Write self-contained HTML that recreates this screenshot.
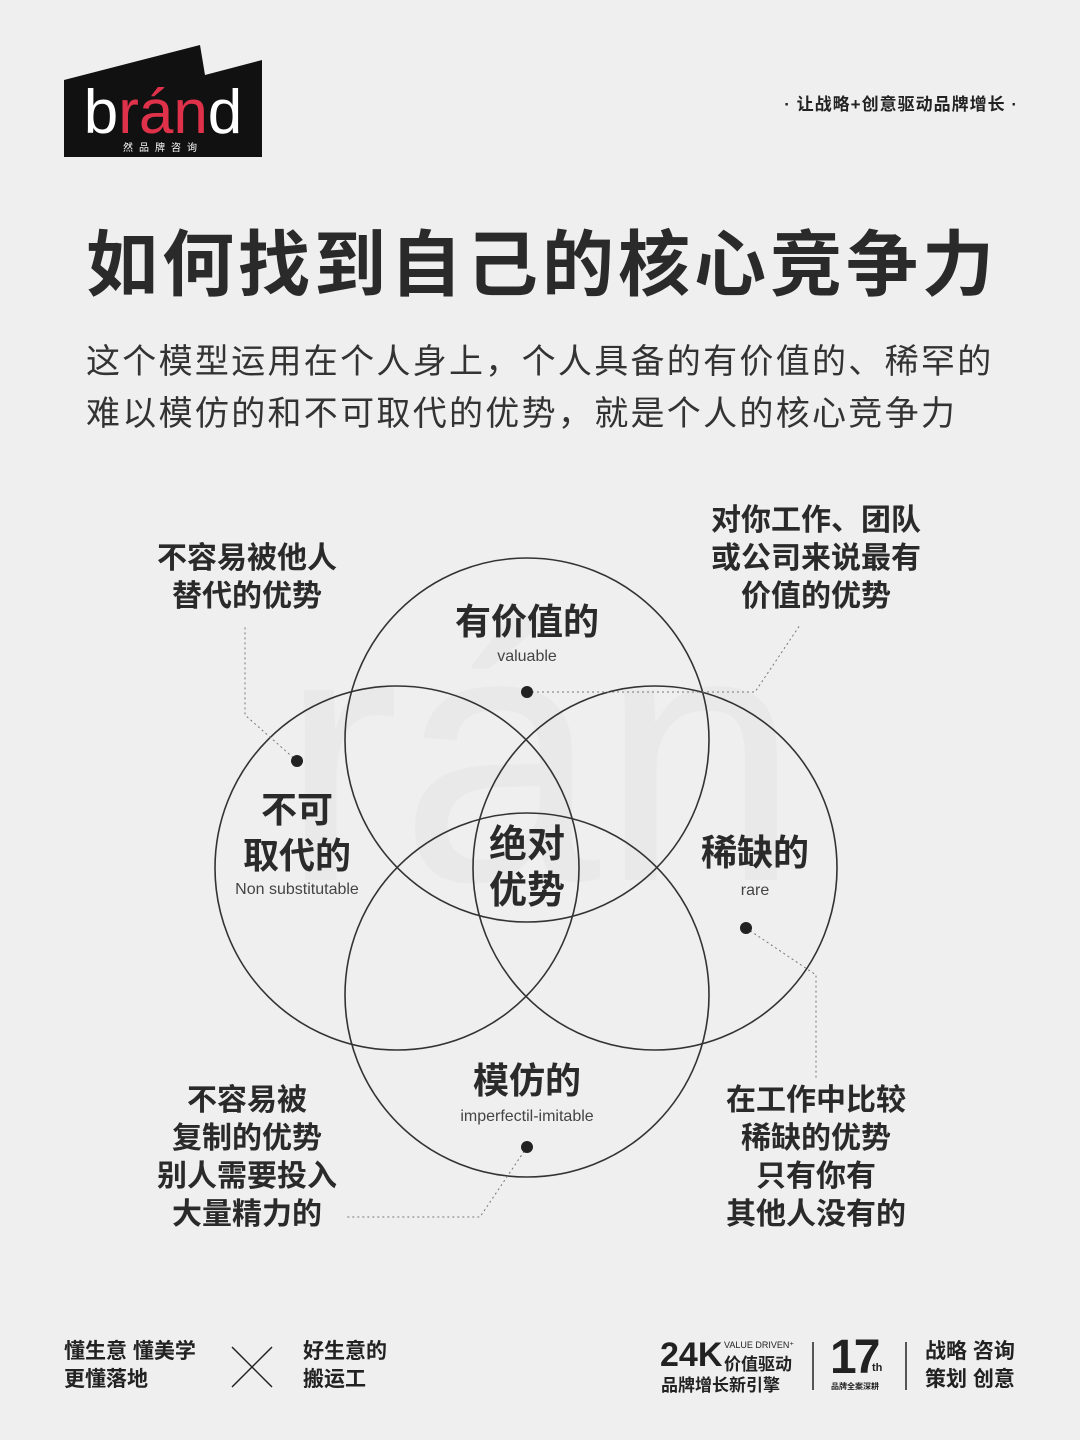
<!DOCTYPE html>
<html><head><meta charset="utf-8"><style>
body{margin:0;width:1080px;height:1440px;background:#efefef;position:relative;overflow:hidden;font-family:"Liberation Sans","Noto Sans CJK SC",sans-serif;color:#222}
.a{position:absolute;white-space:nowrap}
.c{text-align:center;transform:translateX(-50%)}
.lbl{font-weight:bold;font-size:33px;line-height:38px;color:#2a2a2a}
.en{font-size:16px;color:#444}
</style></head><body>
<svg class="a" style="left:0;top:0" width="1080" height="1440">
<text x="540" y="880" text-anchor="middle" font-family="Liberation Sans" font-size="360" fill="#e9e9e9">rán</text>
<polygon points="64,80 200,45 205,75 262,60 262,157 64,157" fill="#111"/>
<text x="163" y="133" text-anchor="middle" font-family="Liberation Sans" font-size="62" fill="#fff">b<tspan fill="#e0314b">rán</tspan>d</text>
<text x="163" y="151" text-anchor="middle" font-family="Noto Sans CJK SC" font-size="10" fill="#fff" letter-spacing="6">然品牌咨询</text>
<g fill="none" stroke="#333" stroke-width="1.6">
<circle cx="527" cy="740" r="182"/>
<circle cx="397" cy="868" r="182"/>
<circle cx="655" cy="868" r="182"/>
<circle cx="527" cy="995" r="182"/>
</g>
<g fill="none" stroke="#777" stroke-width="1" stroke-dasharray="2,3">
<polyline points="527,692 755,692 800,625"/>
<polyline points="297,761 245,715 245,625"/>
<polyline points="746,928 816,975 816,1078"/>
<polyline points="527,1147 480,1217 345,1217"/>
<line x1="232" y1="1347" x2="272" y2="1387" stroke="#222" stroke-dasharray="none" stroke-width="1.5"/>
<line x1="272" y1="1347" x2="232" y2="1387" stroke="#222" stroke-dasharray="none" stroke-width="1.5"/>
<line x1="813" y1="1342" x2="813" y2="1390" stroke="#222" stroke-dasharray="none" stroke-width="1.5"/>
<line x1="906" y1="1342" x2="906" y2="1390" stroke="#222" stroke-dasharray="none" stroke-width="1.5"/>
</g>
<g fill="#222">
<circle cx="527" cy="692" r="6"/><circle cx="297" cy="761" r="6"/><circle cx="746" cy="928" r="6"/><circle cx="527" cy="1147" r="6"/>
</g>
</svg>
<div class="a" style="right:62px;top:90px;font-size:17px;font-weight:bold;letter-spacing:1px">· 让战略+创意驱动品牌增长 ·</div>
<div class="a" style="left:86px;top:206px;font-size:72px;font-weight:bold;letter-spacing:4px;color:#2a2a2a">如何找到自己的核心竞争力</div>
<div class="a" style="left:86px;top:336px;font-size:34px;line-height:52px;color:#333;letter-spacing:2.3px">这个模型运用在个人身上，个人具备的有价值的、稀罕的<br>难以模仿的和不可取代的优势，就是个人的核心竞争力</div>

<div class="a c lbl" style="left:527px;top:603px;font-size:36px">有价值的</div>
<div class="a c en" style="left:527px;top:648px">valuable</div>
<div class="a c lbl" style="left:297px;top:787px;font-size:36px;line-height:46px">不可<br>取代的</div>
<div class="a c en" style="left:297px;top:881px">Non substitutable</div>
<div class="a c lbl" style="left:755px;top:834px;font-size:36px">稀缺的</div>
<div class="a c en" style="left:755px;top:882px">rare</div>
<div class="a c lbl" style="left:527px;top:1062px;font-size:36px">模仿的</div>
<div class="a c en" style="left:527px;top:1108px">imperfectil-imitable</div>
<div class="a c lbl" style="left:527px;top:822px;font-size:38px;line-height:46px">绝对<br>优势</div>

<div class="a c lbl" style="left:247px;top:540px;font-size:30px">不容易被他人<br>替代的优势</div>
<div class="a c lbl" style="left:816px;top:502px;font-size:30px">对你工作、团队<br>或公司来说最有<br>价值的优势</div>
<div class="a c lbl" style="left:247px;top:1082px;font-size:30px">不容易被<br>复制的优势<br>别人需要投入<br>大量精力的</div>
<div class="a c lbl" style="left:816px;top:1082px;font-size:30px">在工作中比较<br>稀缺的优势<br>只有你有<br>其他人没有的</div>

<div class="a" style="left:64px;top:1338px;font-size:21px;font-weight:bold;line-height:28px">懂生意 懂美学<br>更懂落地</div>
<div class="a" style="left:303px;top:1338px;font-size:21px;font-weight:bold;line-height:28px">好生意的<br>搬运工</div>
<div class="a" style="left:660px;top:1336px;font-size:34px;font-weight:bold">24K</div>
<div class="a" style="left:724px;top:1340px;font-size:9px">VALUE DRIVEN⁺</div>
<div class="a" style="left:724px;top:1350px;font-size:17px;font-weight:bold">价值驱动</div>
<div class="a" style="left:661px;top:1371px;font-size:17px;font-weight:bold">品牌增长新引擎</div>
<div class="a" style="left:830px;top:1330px;font-size:48px;font-weight:bold;letter-spacing:-3px">17</div>
<div class="a" style="left:872px;top:1362px;font-size:11px;font-weight:bold">th</div>
<div class="a" style="left:831px;top:1381px;font-size:8px;font-weight:bold">品牌全案深耕</div>
<div class="a" style="left:925px;top:1338px;font-size:21px;font-weight:bold;line-height:28px">战略 咨询<br>策划 创意</div>
</body></html>
